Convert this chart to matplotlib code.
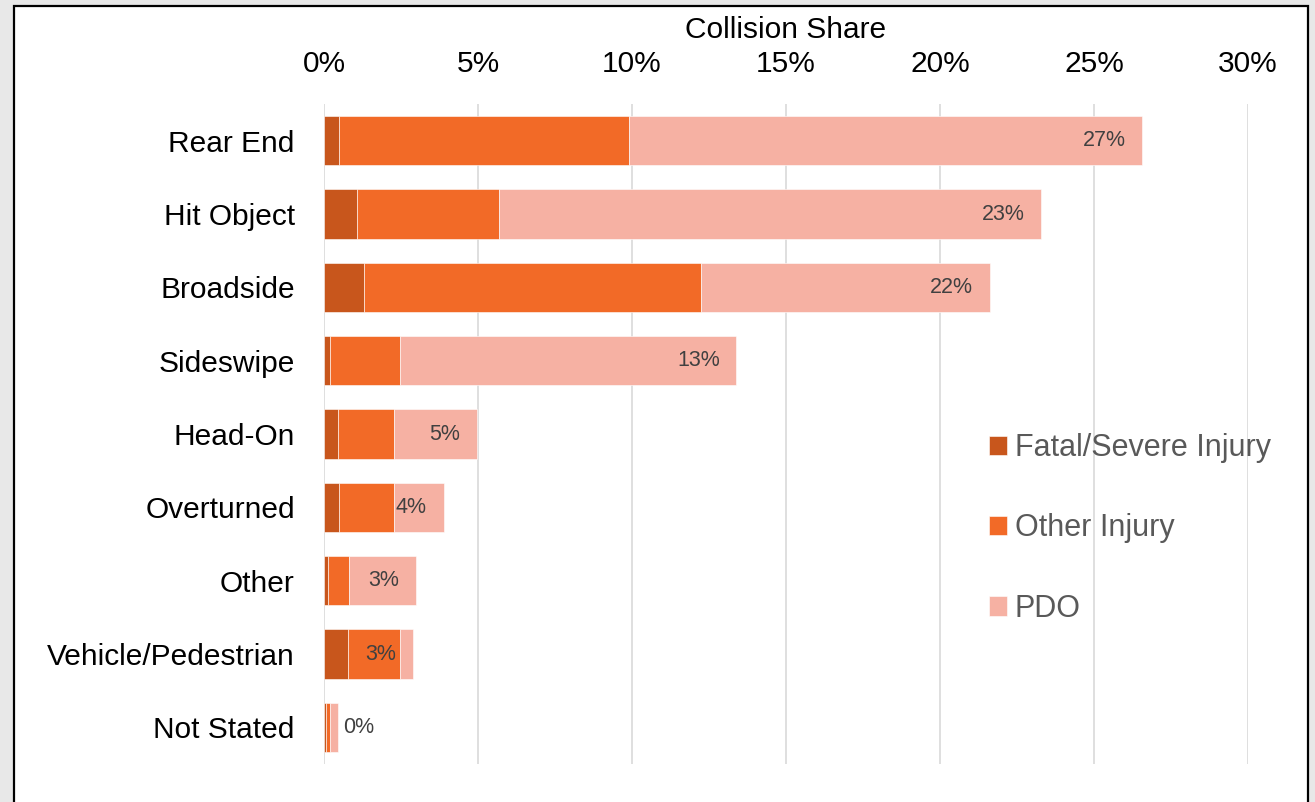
import matplotlib
matplotlib.use("Agg")
import matplotlib.pyplot as plt
from matplotlib.patches import Rectangle

# collision types and shares (%) by severity
categories = ['Rear End', 'Hit Object', 'Broadside', 'Sideswipe', 'Head-On',
              'Overturned', 'Other', 'Vehicle/Pedestrian', 'Not Stated']
fatal = [0.49, 1.07, 1.30, 0.19, 0.46, 0.49, 0.13, 0.77, 0.07]
other_injury = [9.42, 4.61, 10.95, 2.28, 1.81, 1.79, 0.68, 1.69, 0.13]
pdo = [16.65, 17.61, 9.37, 10.92, 2.70, 1.60, 2.18, 0.43, 0.27]
xticks = [0, 5, 10, 15, 20, 25, 30]

plt.rcParams['font.family'] = ['Liberation Sans', 'DejaVu Sans']

fig = plt.figure(figsize=(13.15, 8.02), dpi=100, facecolor='#e8e8e8')
# white chart area with black frame
fig.patches.append(Rectangle((14 / 1315, -0.02), 1294 / 1315, 1.02 - 6 / 802,
                             transform=fig.transFigure, facecolor='white',
                             edgecolor='black', linewidth=1.6, zorder=-1))

ax = fig.add_axes([324 / 1315, 38 / 802, 924 / 1315, 660 / 802])
ax.set_facecolor('none')

y = list(range(len(categories)))
h = 0.67
left2 = [f + o for f, o in zip(fatal, other_injury)]
ax.barh(y, fatal, height=h, color='#C8561C', edgecolor='white', linewidth=0.4,
        label='Fatal/Severe Injury', zorder=3)
ax.barh(y, other_injury, left=fatal, height=h, color='#F26A27', edgecolor='white',
        linewidth=0.4, label='Other Injury', zorder=3)
ax.barh(y, pdo, left=left2, height=h, color='#F6B1A3', edgecolor='white',
        linewidth=0.4, label='PDO', zorder=3)

# total labels
for i, (a, b) in enumerate(zip(left2, pdo)):
    total = a + b
    txt = f"{round(total):.0f}%"
    if total < 1:
        ax.annotate(txt, (total, i), xytext=(3, 0), textcoords='offset points',
                    ha='left', va='center', fontsize=15.5, color='#404040', zorder=4)
    else:
        ax.annotate(txt, (total, i), xytext=(-12, 0), textcoords='offset points',
                    ha='right', va='center', fontsize=15.5, color='#404040', zorder=4)

ax.set_xlim(0, 30)
ax.set_ylim(len(categories) - 0.5, -0.5)
ax.set_xticks(xticks)
ax.set_xticklabels([f"{t}%" for t in xticks])
ax.set_yticks(y)
ax.set_yticklabels(categories)
ax.xaxis.tick_top()
ax.tick_params(axis='x', length=0, pad=19, labelsize=21.5, labelcolor='black')
ax.tick_params(axis='y', length=0, pad=21, labelsize=21.5, labelcolor='black')
ax.grid(axis='x', color='#d9d9d9', linewidth=1.2, zorder=0)
for s in ax.spines.values():
    s.set_visible(False)

ax.text(0.5, 1.112, 'Collision Share', transform=ax.transAxes, ha='center',
        va='center', fontsize=21.5, color='black')

leg = ax.legend(loc='upper left', bbox_to_anchor=(0.706, 0.52), frameon=False,
                fontsize=22, handlelength=0.6, handleheight=0.6,
                handletextpad=0.25, labelspacing=1.65, borderaxespad=0)
for t in leg.get_texts():
    t.set_color('#595959')

fig.savefig('out.png', dpi=100, facecolor=fig.get_facecolor())
